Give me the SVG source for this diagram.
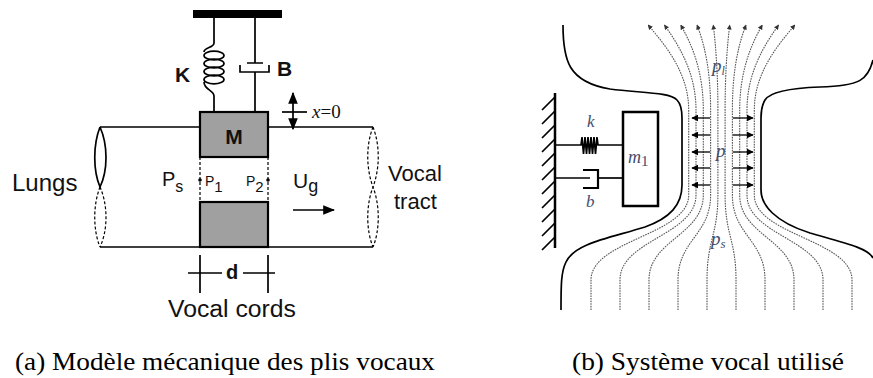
<svg xmlns="http://www.w3.org/2000/svg" width="873" height="378" viewBox="0 0 873 378">
<defs>
<marker id="ah" viewBox="0 0 10 10" refX="9" refY="5" markerWidth="7" markerHeight="7" markerUnits="userSpaceOnUse" orient="auto"><path d="M0,0 L10,5 L0,10 z" fill="#000"/></marker>
<marker id="ahs" viewBox="0 0 10 10" refX="9" refY="5" markerWidth="5" markerHeight="5" markerUnits="userSpaceOnUse" orient="auto"><path d="M0,0 L10,5 L0,10 z" fill="#333"/></marker>
<marker id="ahb" viewBox="0 0 10 10" refX="9" refY="5" markerWidth="12" markerHeight="12" markerUnits="userSpaceOnUse" orient="auto-start-reverse"><path d="M0,1 L10,5 L0,9 z" fill="#000"/></marker>
</defs>
<style>
.ln{stroke:#000;stroke-width:1.7;fill:none}
.th{stroke:#000;stroke-width:2.2;fill:none}
.blk{fill:#a0a0a0;stroke:#000;stroke-width:2.2}
.dsh{stroke:#000;stroke-width:1.2;fill:none;stroke-dasharray:3,2}
.sans{font-family:"Liberation Sans",Arial,sans-serif;fill:#111}
.bold{font-weight:bold}
.ser{font-family:"Liberation Serif","Times New Roman",serif}
.lab{font-family:"Liberation Serif","Times New Roman",serif;font-style:italic;fill:#3f4d6e}
.flow{stroke:#555;stroke-width:1.1;fill:none;stroke-dasharray:1.6,1}
.pa{stroke:#000;stroke-width:1.3;fill:none}
.cap{font-family:"Liberation Serif","Times New Roman",serif;font-size:26px;fill:#000}
</style>

<!-- (a) mechanical model -->
<g id="support"><rect x="193" y="10" width="89" height="8" fill="#000"/></g>
<g id="spring-K">
<path class="ln" d="M214,18 V43 C214,48 204,47 204,52"/>
<ellipse cx="214" cy="55.5" rx="10" ry="4.3" class="ln"/>
<ellipse cx="214" cy="63.5" rx="10" ry="4.3" class="ln"/>
<ellipse cx="214" cy="71.5" rx="10" ry="4.3" class="ln"/>
<ellipse cx="214" cy="79.5" rx="10" ry="4.3" class="ln"/>
<path class="ln" d="M204,82 C204,90 214,90 214,96 V112"/>
<text x="175" y="82" class="sans bold" font-size="21">K</text>
</g>
<g id="damper-B">
<path class="ln" d="M255,18 V63 M247,63 H263 M240,65 V72 H269 V65 M255,72 V112"/>
<text x="277" y="76" class="sans bold" font-size="21">B</text>
</g>
<g id="tube">
<path class="ln" d="M100,127 H200 M268,127 H373 M100,247 H373"/>
<path class="ln" d="M100,127 C108,145 108,170 100,187 M100,127 C93,145 93,170 100,187"/>
<path class="dsh" d="M100,187 C108,205 108,230 100,247 M100,187 C93,205 93,230 100,247"/>
<path class="dsh" d="M373,127 C380,145 380,168 373,187 C366,205 366,230 373,247 M373,127 C366,145 366,168 373,187 C380,205 380,230 373,247"/>
</g>
<g id="mass-M">
<rect x="200" y="112" width="68" height="45" class="blk"/>
<text x="234" y="144" class="sans bold" font-size="21" text-anchor="middle">M</text>
</g>
<g id="lower-block"><rect x="200" y="202" width="68" height="45" class="blk"/></g>
<g id="glottis">
<path class="dsh" d="M200,157 V202 M268,157 V202"/>
<circle cx="200" cy="180" r="1.8" fill="#000"/>
<circle cx="268" cy="180" r="1.8" fill="#000"/>
<text x="162" y="186" class="sans" font-size="20">P<tspan font-size="16" dy="6">s</tspan></text>
<text x="205" y="186" class="sans" font-size="14">P<tspan font-size="15" dy="6">1</tspan></text>
<text x="246" y="186" class="sans" font-size="14">P<tspan font-size="15" dy="6">2</tspan></text>
</g>
<g id="flow-Ug">
<text x="293" y="188" class="sans" font-size="21">U<tspan font-size="18" dy="4">g</tspan></text>
</g>
<g id="lungs"><text x="12" y="191" class="sans" font-size="24">Lungs</text></g>
<g id="vocal-tract">
<text x="388" y="181" class="sans" font-size="22">Vocal</text>
<text x="394" y="209" class="sans" font-size="22">tract</text>
</g>
<g id="x0">
<path class="ln" d="M282,112 H307"/>
<text x="312" y="118" class="ser" font-size="19" fill="#111"><tspan font-style="italic">x</tspan>=0</text>
</g>
<g id="dim-d">
<path class="ln" d="M200,255 V293 M268,255 V293 M188,273 H222 M243,273 H275"/>
<text x="232" y="279" class="sans bold" font-size="20" text-anchor="middle">d</text>
<text x="168" y="317" class="sans" font-size="23" textLength="128" lengthAdjust="spacingAndGlyphs">Vocal cords</text>
</g>

<!-- (b) vocal system -->
<g id="wall">
<path d="M555,93 V248" stroke="#000" stroke-width="2.5"/>
<path class="ln" stroke-width="1.3" d="M555,97 l-13,13 M555,111 l-13,13 M555,125 l-13,13 M555,139 l-13,13 M555,153 l-13,13 M555,167 l-13,13 M555,181 l-13,13 M555,195 l-13,13 M555,209 l-13,13 M555,223 l-13,13 M555,237 l-13,13"/>
</g>
<g id="spring-k">
<path class="ln" stroke-width="1.3" d="M555,145 H581 L582,137 L583.5,154 L585,137 L586.5,154 L588,137 L589.5,154 L591,137 L592.5,154 L594,137 L595.5,154 L597,137 L598,145 H623"/>
<text x="587" y="127" class="lab" font-size="17">k</text>
</g>
<g id="damper-b">
<path class="ln" stroke-width="1.3" d="M555,178 H590"/>
<path class="th" d="M583,170 H598 V188 H583"/>
<path class="ln" stroke-width="1.3" d="M598,178 H623"/>
<text x="586" y="207" class="lab" font-size="17">b</text>
</g>
<g id="mass-m1">
<rect x="623" y="112" width="35" height="94" fill="#fff" stroke="#000" stroke-width="2.5"/>
<text x="628" y="163" class="lab" font-size="18">m<tspan font-style="normal" font-size="15" dy="3">1</tspan></text>
</g>
<g id="contours">
<path class="ln" stroke-width="1.5" d="M563,25 C563,60 568,82 610,89 C640,93 670,92 677,100 C681,104 682,110 682,118 V185 C682,205 670,218 645,227 C610,238 575,243 566,262 C561,272 561,285 561,310"/>
<path class="ln" stroke-width="1.5" d="M873,60 C868,80 860,86 820,87 C790,88 770,92 765,100 C762,105 761,110 761,118 V190 C761,205 775,222 810,233 C845,243 868,248 873,258"/>
</g>
<g id="streamlines">
<path class="flow" marker-end="url(#ahs)" d="M591,310 V280 C591,240 688.7,235 688.7,195 V110 C688.7,75 668,48 648.1,25"/>
<path class="flow" marker-end="url(#ahs)" d="M620,310 V280 C620,240 696,235 696,195 V110 C696,75 681,48 664.4,25"/>
<path class="flow" marker-end="url(#ahs)" d="M649,310 V280 C649,240 703.3,235 703.3,195 V110 C703.3,75 694,48 680.7,25"/>
<path class="flow" marker-end="url(#ahs)" d="M678,310 V280 C678,240 710.6,235 710.6,195 V110 C710.6,75 706,48 697,25"/>
<path class="flow" marker-end="url(#ahs)" d="M707,310 V280 C707,240 717.9,235 717.9,195 V110 C717.9,75 716,48 713.3,25"/>
<path class="flow" marker-end="url(#ahs)" d="M736,310 V280 C736,240 725.1,235 725.1,195 V110 C725.1,75 727,48 729.7,25"/>
<path class="flow" marker-end="url(#ahs)" d="M765,310 V280 C765,240 732.4,235 732.4,195 V110 C732.4,75 737,48 746,25"/>
<path class="flow" marker-end="url(#ahs)" d="M794,310 V280 C794,240 739.7,235 739.7,195 V110 C739.7,75 749,48 762.3,25"/>
<path class="flow" marker-end="url(#ahs)" d="M823,310 V280 C823,240 747,235 747,195 V110 C747,75 762,48 778.6,25"/>
<path class="flow" marker-end="url(#ahs)" d="M852,310 V280 C852,240 754.3,235 754.3,195 V110 C754.3,75 775,48 794.9,25"/>
</g>
<g id="pressure-arrows">
<path class="pa" marker-end="url(#ah)" d="M710,118 H692"/>
<path class="pa" marker-end="url(#ah)" d="M710,135 H692"/>
<path class="pa" marker-end="url(#ah)" d="M710,152 H692"/>
<path class="pa" marker-end="url(#ah)" d="M710,168 H692"/>
<path class="pa" marker-end="url(#ah)" d="M710,185 H692"/>
<path class="pa" marker-end="url(#ah)" d="M733,118 H753"/>
<path class="pa" marker-end="url(#ah)" d="M733,135 H753"/>
<path class="pa" marker-end="url(#ah)" d="M733,152 H753"/>
<path class="pa" marker-end="url(#ah)" d="M733,168 H753"/>
<path class="pa" marker-end="url(#ah)" d="M733,185 H753"/>
<text x="716" y="157" class="lab" font-size="19">p</text>
<text x="712" y="72" class="lab" font-size="19">p<tspan font-size="12" dy="3">l</tspan></text>
<text x="711" y="245" class="lab" font-size="19">p<tspan font-size="13" dy="3">s</tspan></text>
</g>

<g id="connectors">
<path class="ln" marker-start="url(#ahb)" marker-end="url(#ahb)" d="M293,93 V129"/>
<path class="ln" stroke-width="2" marker-end="url(#ahb)" d="M293,210 H334"/>
</g>

<g id="captions">
<text x="15" y="370" class="cap" textLength="420" lengthAdjust="spacingAndGlyphs">(a) Modèle mécanique des plis vocaux</text>
<text x="572" y="370" class="cap" textLength="272" lengthAdjust="spacingAndGlyphs">(b) Système vocal utilisé</text>
</g>
</svg>
